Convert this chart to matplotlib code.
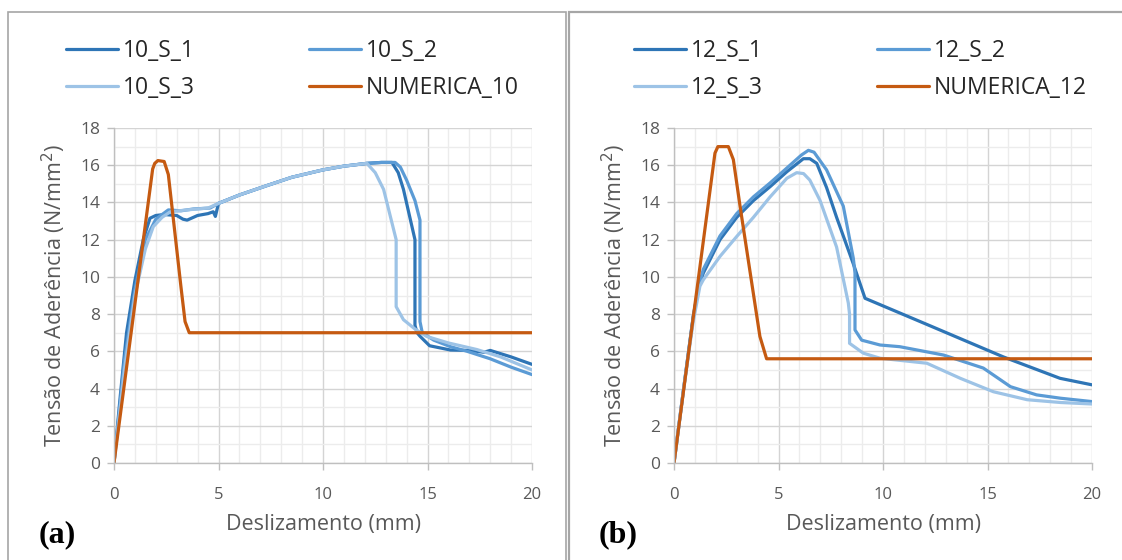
#!/usr/bin/env python
# coding=utf-8
"""
Bond stress vs slip curves, bars 10 mm (a) and 12 mm (b)
"""

import matplotlib
matplotlib.use('Agg')
import matplotlib.pyplot as plt
from matplotlib.patches import Rectangle
from matplotlib.ticker import MultipleLocator

#  Panel (a) - 10 mm
x_10_s1 = [0, 0.3, 0.6, 1.0, 1.4, 1.72, 2.0, 2.4, 3.0, 3.3, 3.5, 3.8, 4.0, 4.5, 4.75,
           4.85, 5.0, 6.0, 7.3, 8.5, 10.0, 11.0, 12.1, 12.8, 13.3, 13.6, 13.85,
           14.4, 14.4, 14.5, 14.65, 15.1, 16.1, 17.0, 17.7, 18.0, 19.0, 20.0]
y_10_s1 = [0, 3.6, 7.0, 9.8, 12.0, 13.15, 13.3, 13.35, 13.3, 13.1, 13.05, 13.2,
           13.3, 13.4, 13.5, 13.25, 13.95, 14.4, 14.9, 15.35, 15.75, 15.95, 16.1,
           16.15, 16.15, 15.6, 14.7, 12.0, 7.4, 7.0, 6.8, 6.3, 6.07, 6.05, 5.95,
           6.05, 5.7, 5.3]

x_10_s2 = [0, 0.5, 1.0, 1.5, 2.0, 2.6, 3.2, 3.8, 4.6, 5.0, 6.0, 7.3, 8.5, 10.0,
           11.0, 12.1, 12.8, 13.45, 13.7, 14.0, 14.4, 14.64, 14.64, 14.75, 15.3,
           16.1, 16.9, 18.0, 19.0, 20.0]
y_10_s2 = [0, 5.5, 9.3, 12.0, 13.1, 13.6, 13.55, 13.65, 13.7, 13.95, 14.4, 14.9,
           15.35, 15.75, 15.95, 16.1, 16.15, 16.15, 15.9, 15.2, 14.1, 13.05, 7.6,
           7.0, 6.6, 6.25, 6.0, 5.6, 5.15, 4.75]

x_10_s3 = [0, 0.5, 1.0, 1.5, 1.88, 2.3, 2.7, 3.5, 4.5, 5.0, 6.0, 7.3, 8.5, 10.0,
           11.0, 12.1, 12.5, 12.9, 13.5, 13.5, 13.85, 14.4, 14.96, 16.0, 17.35,
           18.5, 20.0]
y_10_s3 = [0, 5.0, 9.0, 11.5, 12.7, 13.2, 13.5, 13.6, 13.7, 13.95, 14.4, 14.9,
           15.35, 15.75, 15.95, 16.1, 15.6, 14.7, 12.0, 8.4, 7.7, 7.2, 6.8, 6.45,
           6.1, 5.7, 5.0]

x_num_10 = [0, 1.85, 1.95, 2.1, 2.4, 2.6, 2.8, 3.2, 3.4, 3.6, 20.0]
y_num_10 = [0, 15.8, 16.1, 16.25, 16.2, 15.5, 13.5, 9.5, 7.6, 7.0, 7.0]

#  Panel (b) - 12 mm
x_12_s1 = [0, 0.45, 0.92, 1.16, 1.4, 2.2, 3.0, 3.8, 4.6, 5.4, 6.19, 6.5, 6.83,
           7.3, 7.78, 8.58, 9.14, 12.09, 15.76, 18.47, 20.0]
y_12_s1 = [0, 3.9, 7.87, 9.3, 10.2, 12.0, 13.2, 14.1, 14.85, 15.65, 16.35, 16.35,
           16.1, 14.8, 13.2, 10.7, 8.85, 7.45, 5.7, 4.55, 4.2]

x_12_s2 = [0, 0.45, 0.92, 1.16, 1.4, 2.2, 3.0, 3.8, 4.6, 5.4, 6.1, 6.43, 6.7,
           7.3, 8.1, 8.58, 8.66, 8.66, 8.98, 9.86, 10.8, 12.9, 14.8, 16.1, 17.35,
           18.5, 20.0]
y_12_s2 = [0, 3.9, 7.87, 9.4, 10.4, 12.2, 13.4, 14.3, 15.05, 15.85, 16.55, 16.8,
           16.7, 15.75, 13.8, 11.0, 10.2, 7.15, 6.6, 6.34, 6.25, 5.8, 5.1, 4.1,
           3.66, 3.48, 3.3]

x_12_s3 = [0, 0.45, 0.92, 1.24, 1.4, 2.2, 3.0, 3.8, 4.6, 5.4, 5.87, 6.2, 6.5,
           6.99, 7.78, 8.34, 8.4, 8.4, 9.06, 9.86, 12.1, 13.7, 15.28, 16.9, 18.5,
           20.0]
y_12_s3 = [0, 3.9, 7.6, 9.5, 9.84, 11.1, 12.17, 13.2, 14.3, 15.3, 15.6, 15.55,
           15.2, 14.1, 11.6, 8.6, 8.0, 6.43, 5.9, 5.63, 5.36, 4.55, 3.83, 3.4,
           3.25, 3.17]

x_num_12 = [0, 1.96, 2.1, 2.6, 2.84, 3.16, 4.11, 4.43, 20.0]
y_num_12 = [0, 16.65, 17.0, 17.0, 16.3, 13.8, 6.8, 5.6, 5.6]

#  Colours
c_dark = '#2E75B6'
c_mid = '#5B9BD5'
c_light = '#9DC3E6'
c_num = '#C55A11'
c_text = '#595959'

plain = ['Open Sans', 'DejaVu Sans']


def style_axes(ax):
    ax.set_xlim(0, 20)
    ax.set_ylim(0, 18)
    ax.xaxis.set_major_locator(MultipleLocator(5))
    ax.xaxis.set_minor_locator(MultipleLocator(1))
    ax.yaxis.set_major_locator(MultipleLocator(2))
    ax.yaxis.set_minor_locator(MultipleLocator(1))
    ax.grid(which='major', color='#d4d4d4', lw=1.0, zorder=0)
    ax.grid(which='minor', color='#ececec', lw=1.0, zorder=0)
    ax.set_axisbelow(True)
    for side in ['top', 'right']:
        ax.spines[side].set_visible(False)
    for side in ['left', 'bottom']:
        ax.spines[side].set_color('#bfbfbf')
        ax.spines[side].set_linewidth(1.0)
    ax.tick_params(which='major', length=5, width=1, color='#bfbfbf',
                   labelcolor=c_text)
    ax.tick_params(axis='x', pad=12)
    ax.tick_params(axis='y', pad=5)
    ax.tick_params(which='minor', length=0)
    for lab in ax.get_xticklabels():
        lab.set_family(plain)
        lab.set_fontsize(12)
    for lab in ax.get_yticklabels():
        lab.set_family(plain)
        lab.set_fontsize(12.5)
    ax.set_xlabel('Deslizamento (mm)', family=plain, fontsize=15.5,
                  color=c_text, labelpad=8)
    ax.set_ylabel('Tensão de Aderência (N/mm$^2$)', family=plain, fontsize=15.5,
                  color=c_text, labelpad=9)


fig = plt.figure(figsize=(11.22, 5.60), dpi=100)

#  Panel frames
fig.patches.append(Rectangle((8 / 1122, -0.01), 558 / 1122, 1.01 - 12 / 560,
                             transform=fig.transFigure, fill=False,
                             ec='#a6a6a6', lw=1.2))
fig.patches.append(Rectangle((569 / 1122, -0.01), 560 / 1122, 1.01 - 12 / 560,
                             transform=fig.transFigure, fill=False,
                             ec='#a6a6a6', lw=1.6))

ax_a = fig.add_axes([114 / 1122, 97 / 560, 418 / 1122, 335 / 560])
ax_b = fig.add_axes([674 / 1122, 97 / 560, 418 / 1122, 335 / 560])

lw = 2.3
ax_a.plot(x_10_s1, y_10_s1, color=c_dark, lw=lw, label='10_S_1')
ax_a.plot(x_10_s2, y_10_s2, color=c_mid, lw=lw, label='10_S_2')
ax_a.plot(x_10_s3, y_10_s3, color=c_light, lw=lw, label='10_S_3')
ax_a.plot(x_num_10, y_num_10, color=c_num, lw=lw, label='NUMERICA_10')

ax_b.plot(x_12_s1, y_12_s1, color=c_dark, lw=lw, label='12_S_1')
ax_b.plot(x_12_s2, y_12_s2, color=c_mid, lw=lw, label='12_S_2')
ax_b.plot(x_12_s3, y_12_s3, color=c_light, lw=lw, label='12_S_3')
ax_b.plot(x_num_12, y_num_12, color=c_num, lw=lw, label='NUMERICA_12')

panels = [(ax_a, '(a)', 66 / 1122), (ax_b, '(b)', 634 / 1122)]
for ax, tag, leg_x in panels:
    style_axes(ax)
    for line in ax.get_lines():
        line.set_solid_capstyle('round')
        line.set_solid_joinstyle('round')
    h, l = ax.get_legend_handles_labels()
    order = [0, 2, 1, 3]  # row-wise: S_1 S_2 / S_3 NUMERICA
    ax.legend([h[i] for i in order], [l[i] for i in order],
              loc='upper left', bbox_to_anchor=(leg_x, 1 - 39 / 560),
              bbox_transform=fig.transFigure, ncol=2, frameon=False,
              prop={'family': plain, 'size': 16.5}, handlelength=2.25,
              handletextpad=0.22, columnspacing=5.0, labelspacing=0.55,
              labelcolor='#262626', borderaxespad=0, borderpad=0)
    fig.text(ax.get_position().x0 - 75 / 1122, 25 / 560, tag,
             family=['Liberation Serif', 'DejaVu Serif'], fontweight='bold',
             fontsize=23, color='black', ha='left', va='center')

fig.savefig('out.png', dpi=100)
plt.close()
